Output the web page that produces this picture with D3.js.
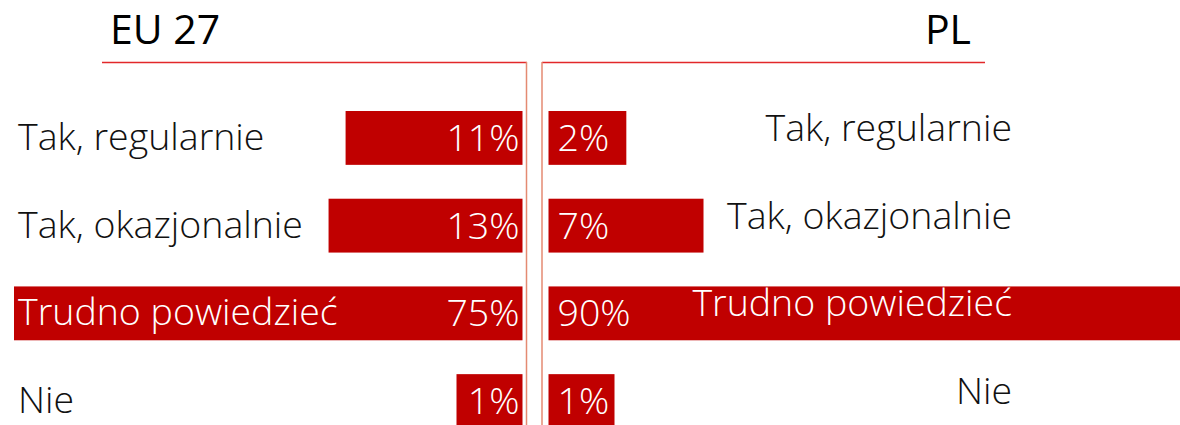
<!DOCTYPE html>
<html>
<head>
<meta charset="utf-8">
<script src="https://cdn.jsdelivr.net/npm/d3@7"></script>
<style>
  body { margin: 0; background: #fff; }
  svg text { font-family: "Open Sans", "Noto Sans", sans-serif; }
</style>
</head>
<body>
<svg width="1180" height="425"></svg>
<script>
const categories = ["Tak, regularnie", "Tak, okazjonalnie", "Trudno powiedzieć", "Nie"];
const euValues = [11, 13, 75, 1];
const plValues = [2, 7, 90, 1];
const titles = ["EU 27", "PL"];

const svg = d3.select("svg");
const width = +svg.attr("width");
const red = "#c00000";
const leftZero = 522.5, rightZero = 548.5;
const minBar = 66; // wide enough for a "1%" label
const fs = 37.5;

const y = d3.scaleBand().domain(categories).range([111, 428]).paddingInner(0.386);

// bars are drawn on a compressed (power) scale, each panel filling its own width
const xEU = d3.scalePow().exponent(0.55).domain([0, d3.max(euValues)]).range([0, leftZero - 14]);
const xPL = d3.scalePow().exponent(0.55).domain([0, d3.max(plValues)]).range([0, width - rightZero]);
const barW = (x, v) => Math.max(minBar, x(v));

// titles and frame lines
svg.append("text").attr("x", 110).attr("y", 44)
    .attr("font-size", 41).attr("font-weight", 400).attr("fill", "#000").text(titles[0]);
svg.append("text").attr("x", 971).attr("y", 44).attr("text-anchor", "end")
    .attr("font-size", 41).attr("font-weight", 400).attr("fill", "#000").text(titles[1]);

svg.append("line").attr("x1", 102).attr("x2", 527).attr("y1", 62.5).attr("y2", 62.5)
    .attr("stroke", "#e2282a").attr("stroke-width", 1.5);
svg.append("line").attr("x1", 542).attr("x2", 985).attr("y1", 62.5).attr("y2", 62.5)
    .attr("stroke", "#e2282a").attr("stroke-width", 1.5);
svg.append("line").attr("x1", 526.5).attr("x2", 526.5).attr("y1", 62).attr("y2", 425)
    .attr("stroke", "#e48a72").attr("stroke-width", 1.5);
svg.append("line").attr("x1", 542).attr("x2", 542).attr("y1", 62).attr("y2", 425)
    .attr("stroke", "#e48a72").attr("stroke-width", 1.5);

const eu = categories.map((c, i) => ({ c, v: euValues[i] }));
const pl = categories.map((c, i) => ({ c, v: plValues[i] }));

// EU 27 (bars grow to the left)
const left = svg.append("g");
left.selectAll("rect").data(eu).enter().append("rect")
    .attr("x", d => leftZero - barW(xEU, d.v))
    .attr("y", d => y(d.c))
    .attr("width", d => barW(xEU, d.v))
    .attr("height", y.bandwidth())
    .attr("fill", red);

left.selectAll(".cat").data(eu).enter().append("text")
    .attr("class", "cat")
    .attr("x", 18)
    .attr("y", d => y(d.c) + y.bandwidth() / 2 + 12)
    .attr("font-size", fs).attr("font-weight", 300)
    .text(d => d.c)
    .attr("fill", function (d) {
        return leftZero - barW(xEU, d.v) < 18 + this.getComputedTextLength() ? "#fff" : "#111";
    });

left.selectAll(".pct").data(eu).enter().append("text")
    .attr("class", "pct")
    .attr("x", leftZero - 3)
    .attr("y", d => y(d.c) + 40)
    .attr("text-anchor", "end")
    .attr("font-size", fs).attr("font-weight", 300).attr("fill", "#fff")
    .text(d => d.v + "%");

// PL (bars grow to the right)
const right = svg.append("g");
right.selectAll("rect").data(pl).enter().append("rect")
    .attr("x", rightZero)
    .attr("y", d => y(d.c))
    .attr("width", d => barW(xPL, d.v))
    .attr("height", y.bandwidth())
    .attr("fill", red);

right.selectAll(".cat").data(pl).enter().append("text")
    .attr("class", "cat")
    .attr("x", 1012)
    .attr("y", d => y(d.c) + y.bandwidth() / 2 + 3)
    .attr("text-anchor", "end")
    .attr("font-size", fs).attr("font-weight", 300)
    .text(d => d.c)
    .attr("fill", function (d) {
        return rightZero + barW(xPL, d.v) > 1012 - this.getComputedTextLength() ? "#fff" : "#111";
    });

right.selectAll(".pct").data(pl).enter().append("text")
    .attr("class", "pct")
    .attr("x", rightZero + 9)
    .attr("y", d => y(d.c) + 40)
    .attr("font-size", fs).attr("font-weight", 300).attr("fill", "#fff")
    .text(d => d.v + "%");
</script>
</body>
</html>
